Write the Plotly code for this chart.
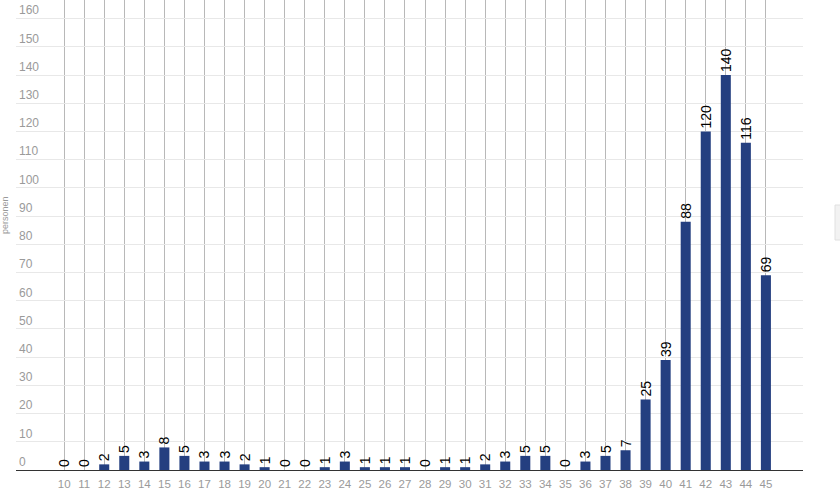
import plotly.graph_objects as go

# leeftijd (x) en aantal personen (y)
ages = list(range(10, 46))
persons = [0, 0, 2, 5, 3, 8, 5, 3, 3, 2,
           1, 0, 0, 1, 3, 1, 1, 1, 0, 1,
           1, 2, 3, 5, 5, 0, 3, 5, 7, 25,
           39, 88, 120, 140, 116, 69]
y_ticks = list(range(0, 170, 10))

bar_color = "#243f80"

fig = go.Figure(go.Bar(
    x=ages,
    y=persons,
    marker=dict(color=bar_color, line=dict(width=0)),
    width=0.5,
    text=[str(v) for v in persons],
    textposition="outside",
    textangle=-90,
    constraintext="none",
    textfont=dict(color="black", size=14, family="Liberation Sans, Arial"),
    cliponaxis=False,
    hoverinfo="x+y",
))

fig.update_layout(
    width=840,
    height=494,
    plot_bgcolor="white",
    paper_bgcolor="white",
    font=dict(family="Liberation Sans, Arial", size=12, color="#999999"),
    margin=dict(l=16, r=37, t=0, b=24),
    showlegend=False,
    xaxis=dict(
        range=[7.6, 46.85],
        tickvals=ages,
        ticktext=[str(a) for a in ages],
        showgrid=True,
        gridcolor="#b8b8b8",
        gridwidth=1,
        showline=True,
        linecolor="#333333",
        linewidth=1,
        ticks="",
        ticklabelstandoff=3,
        zeroline=False,
        automargin=False,
        tickfont=dict(size=11.5, color="#9a9a9a"),
    ),
    yaxis=dict(
        range=[0, 166.6],
        tickvals=y_ticks,
        showgrid=True,
        gridcolor="#e8e8e8",
        zeroline=False,
        automargin=False,
        ticklabelposition="inside top",
        tickfont=dict(size=12, color="#9a9a9a"),
    ),
    annotations=[dict(
        text="personen",
        xref="paper", yref="paper",
        x=-11 / 787, y=(470 - 215) / 470,
        xanchor="center", yanchor="middle",
        textangle=-90, showarrow=False,
        font=dict(size=9, color="#999999"),
    )],
    shapes=[dict(
        type="rect", xref="paper", yref="paper",
        x0=(835 - 16) / 787, x1=(845 - 16) / 787,
        y0=(470 - 240) / 470, y1=(470 - 205) / 470,
        line=dict(color="#e0e0e0", width=1),
        fillcolor="#f2f2f2",
    )],
)

# page margin off so the chart sits at the window corner
fig.write_html("out.html", config={"displayModeBar": False},
               post_script="document.body.style.margin='0';")
